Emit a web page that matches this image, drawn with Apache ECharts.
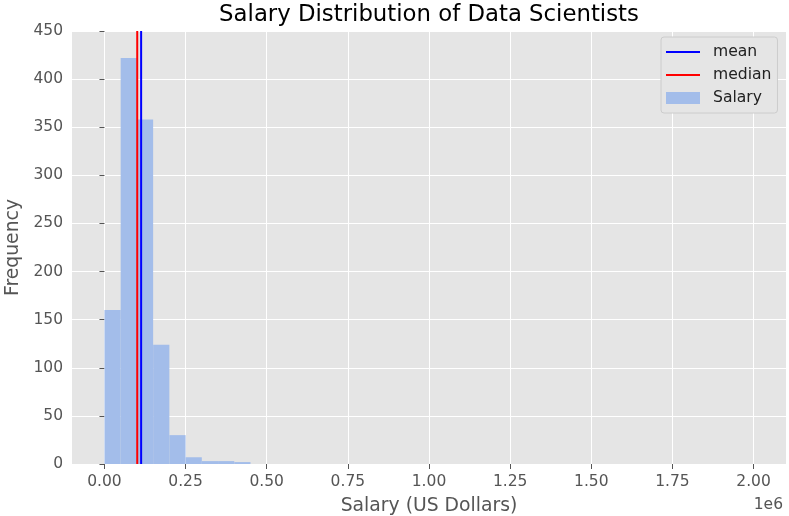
<!DOCTYPE html>
<html>
<head>
<meta charset="utf-8">
<script src="https://cdn.jsdelivr.net/npm/echarts@6/dist/echarts.min.js"></script>
<style>html,body{margin:0;padding:0;background:#fff}#c{width:789px;height:516px}</style>
</head>
<body>
<div id="c"></div>
<script>
// Data
const binWidth = 50000;
const binStarts = [];
for (let i = 0; i < 40; i++) binStarts.push(i * binWidth);
const counts = [160, 422, 358, 124, 30, 7, 3, 3, 2, 0,
                0, 0, 0, 0, 0, 0, 0, 0, 0, 0,
                0, 0, 0, 0, 0, 0, 0, 0, 0, 0,
                0, 0, 0, 0, 0, 0, 0, 0, 0, 0];
const meanValue = 113000;
const medianValue = 101000;
const xTickValues = [0, 250000, 500000, 750000, 1000000, 1250000, 1500000, 1750000, 2000000];
const yMax = 450;

const histData = binStarts.map((s, i) => [s, s + binWidth, counts[i]]);

const font = 'DejaVu Sans';
const lineIcon = 'path://M0,0M42,12M0,5H34V7H0Z';
const patchIcon = 'path://M0,0M42,12M0,0H34V12H0Z';
const chart = echarts.init(document.getElementById('c'), null, {renderer: 'canvas'});
chart.setOption({
  animation: false,
  backgroundColor: '#ffffff',
  title: [
    {text: 'Salary Distribution of Data Scientists', left: 429, textAlign: 'center', top: 4, padding: 0,
     textStyle: {fontFamily: font, fontSize: 22.8, fontWeight: 'normal', color: '#000'}},
    {text: '1e6', right: 6, top: 497, padding: 0,
     textStyle: {fontFamily: font, fontSize: 15.5, fontWeight: 'normal', color: '#555'}}
  ],
  legend: {
    orient: 'vertical', left: 661, top: 37,
    padding: [7, 6, 7, 5],
    itemWidth: 42, itemHeight: 12, itemGap: 7,
    backgroundColor: '#e5e5e5', borderColor: '#cccccc', borderWidth: 1, borderRadius: 3,
    textStyle: {fontFamily: font, fontSize: 15.6, color: '#222'},
    data: [
      {name: 'mean', icon: lineIcon},
      {name: 'median', icon: lineIcon},
      {name: 'Salary', icon: patchIcon}
    ]
  },
  grid: {left: 72, right: 3, top: 31, bottom: 52, show: true, backgroundColor: '#e5e5e5', borderWidth: 0,
         outerBoundsMode: 'none', containLabel: false},
  xAxis: {
    type: 'value', min: -100000, max: 2100000,
    name: 'Salary (US Dollars)', nameLocation: 'middle', nameGap: 33,
    nameTextStyle: {fontFamily: font, fontSize: 18.8, color: '#555'},
    axisLine: {show: false},
    axisTick: {show: true, length: 5, lineStyle: {color: '#555'}, customValues: xTickValues},
    axisLabel: {fontFamily: font, fontSize: 15.5, color: '#555', margin: 10,
      customValues: xTickValues,
      formatter: v => (v / 1e6).toFixed(2)},
    splitLine: {show: true, lineStyle: {color: '#ffffff', width: 1}}
  },
  yAxis: {
    type: 'value', min: 0, max: yMax, interval: 50,
    name: 'Frequency', nameLocation: 'middle', nameGap: 48, nameRotate: 90,
    nameTextStyle: {fontFamily: font, fontSize: 18.8, color: '#555'},
    axisLine: {show: false},
    axisTick: {show: true, length: 5, lineStyle: {color: '#555'}},
    axisLabel: {fontFamily: font, fontSize: 15.5, color: '#555', margin: 9},
    splitLine: {show: true, lineStyle: {color: '#ffffff', width: 1}}
  },
  series: [
    {
      name: 'Salary', type: 'custom', z: 2,
      itemStyle: {color: '#a3bdea'},
      encode: {x: [0, 1], y: 2},
      data: histData,
      renderItem: function (params, api) {
        const p0 = api.coord([api.value(0), api.value(2)]);
        const p1 = api.coord([api.value(1), 0]);
        return {
          type: 'rect',
          shape: {x: p0[0], y: p0[1], width: p1[0] - p0[0], height: p1[1] - p0[1]},
          style: {fill: '#a3bdea'}
        };
      }
    },
    {
      name: 'mean', type: 'line', z: 4, symbol: 'none',
      lineStyle: {color: '#0000ff', width: 2}, itemStyle: {color: '#0000ff'},
      data: [[meanValue, 0], [meanValue, yMax]]
    },
    {
      name: 'median', type: 'line', z: 3, symbol: 'none',
      lineStyle: {color: '#ff0000', width: 2}, itemStyle: {color: '#ff0000'},
      data: [[medianValue, 0], [medianValue, yMax]]
    }
  ]
});
</script>
</body>
</html>
